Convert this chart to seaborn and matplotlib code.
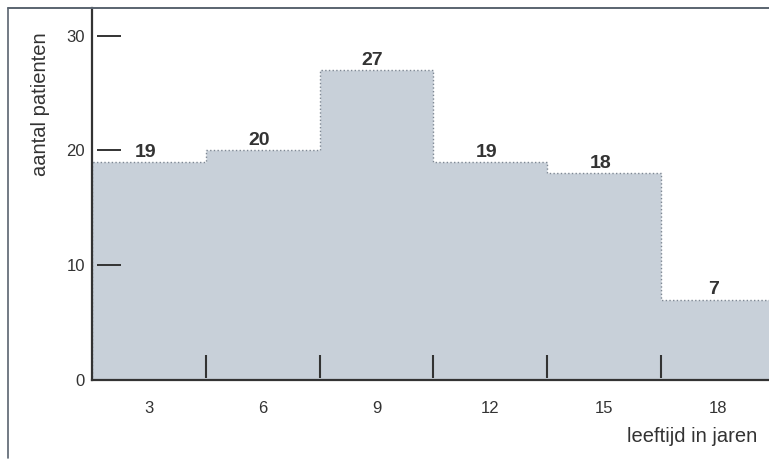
import matplotlib
matplotlib.use("Agg")
import matplotlib.pyplot as plt
from matplotlib.lines import Line2D
import seaborn as sns
import numpy as np
import pandas as pd

# Age groups (years) and number of patients per group
ages = [3, 6, 9, 12, 15, 18]
patients = [19, 20, 27, 19, 18, 7]
y_ticks = [0, 10, 20, 30]

sns.set_theme(style="white")
plt.rcParams["font.family"] = ["Liberation Sans", "DejaVu Sans"]

ink = "#333333"
fill = "#c8d0d9"

df = pd.DataFrame({"leeftijd": ages, "aantal": patients})

fig = plt.figure(figsize=(7.69, 4.62), dpi=100)
W, H = 769, 462
ax = fig.add_axes([92 / W, (H - 380) / H, (W - 92) / W, (380 - 8) / H])

# stepped outline so neighbouring groups merge into one shaded area
sns.histplot(data=df, x="leeftijd", weights="aantal", binwidth=3,
             binrange=(1.5, 19.5), element="step", color=fill, alpha=1.0,
             edgecolor="#7d8793", linewidth=1.0, linestyle=":", ax=ax)
edges = np.arange(1.5, 19.5 + 0.01, 3)

ax.set_xlim(1.5, 19.35)
ax.set_ylim(0, 32.4)

# spines
for s in ["top", "right"]:
    ax.spines[s].set_visible(False)
for s in ["left", "bottom"]:
    ax.spines[s].set_color(ink)
    ax.spines[s].set_linewidth(1.6)

# y ticks: short dashes inside the axis
ax.set_yticks(y_ticks)
ax.set_yticklabels([str(v) for v in y_ticks], fontsize=12, color=ink)
ax.tick_params(axis="y", length=0, pad=5)
ax.hlines(y_ticks[1:], 5 / 677, 29 / 677, transform=ax.get_yaxis_transform(),
          color=ink, linewidth=1.4)

# x tick labels at group centres, marks at group boundaries
ax.set_xticks(ages)
ax.set_xticklabels([str(a) for a in ages], fontsize=12, color=ink)
ax.tick_params(axis="x", length=0, pad=15)
ax.vlines(edges[1:-1], 0.2, 2.2, color=ink, linewidth=1.5)

ax.set_xlabel("")
ax.set_ylabel("")

# value labels above each bar
for a, n in zip(ages, patients):
    ax.text(a - 0.1, n + 0.1, str(n), ha="center", va="bottom",
            fontsize=14, fontweight="bold", color=ink)

# axis titles
fig.text(40 / W, 1 - 104 / H, "aantal patienten", rotation=90,
         ha="center", va="center", fontsize=14.5, color=ink)
fig.text(757 / W, 1 - 437 / H, "leeftijd in jaren",
         ha="right", va="center", fontsize=14.5, color=ink)

# surrounding frame
frame_c = "#5a6470"
fig.add_artist(Line2D([8 / W, 8 / W], [4 / H, 1 - 8 / H], transform=fig.transFigure,
                      color=frame_c, linewidth=1.2))
fig.add_artist(Line2D([8 / W, 1], [1 - 8 / H, 1 - 8 / H], transform=fig.transFigure,
                      color=frame_c, linewidth=1.4))

fig.savefig("out.png", dpi=100)
